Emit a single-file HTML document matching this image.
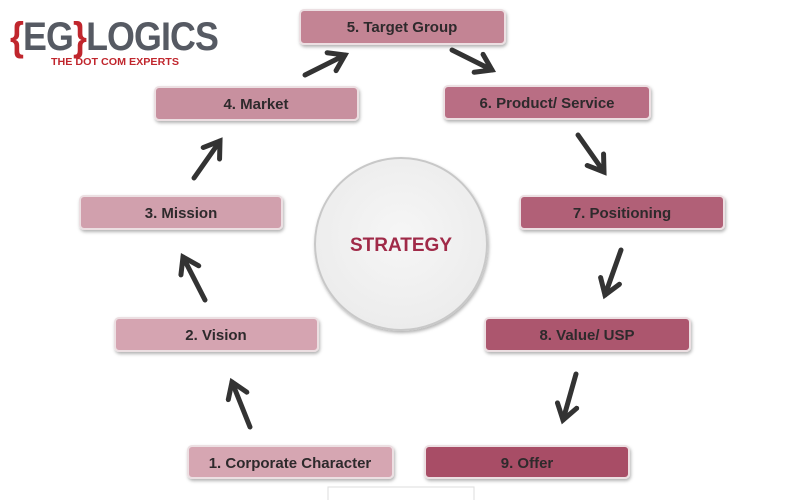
<!DOCTYPE html>
<html><head><meta charset="utf-8"><style>
html,body{margin:0;padding:0;background:#fff;}
svg{display:block;font-family:"Liberation Sans",Arial,sans-serif;}
</style></head><body>
<svg width="804" height="500" viewBox="0 0 804 500" xmlns="http://www.w3.org/2000/svg">
<defs>
<filter id="sh" x="-10%" y="-30%" width="120%" height="170%"><feDropShadow dx="1" dy="2" stdDeviation="1.5" flood-color="#000" flood-opacity="0.3"/></filter>
<radialGradient id="cg" cx="50%" cy="45%" r="55%"><stop offset="0" stop-color="#f6f6f6"/><stop offset="1" stop-color="#ececec"/></radialGradient>
<marker id="ah" viewBox="0 0 10 10" refX="7" refY="5" markerWidth="5" markerHeight="5" orient="auto"><path d="M1,1 L7,5 L1,9" fill="none" stroke="#333" stroke-width="2" stroke-linecap="round"/></marker>
</defs>
<text x="10" y="50" font-size="40" font-weight="bold" fill="#565a63" letter-spacing="-1" textLength="208" lengthAdjust="spacingAndGlyphs"><tspan fill="#c0262d">{</tspan>EG<tspan fill="#c0262d">}</tspan>LOGICS</text>
<text x="51" y="65" font-size="10" font-weight="bold" fill="#c0262d" textLength="128" lengthAdjust="spacingAndGlyphs">THE DOT COM EXPERTS</text>
<circle cx="401" cy="244" r="86" fill="url(#cg)" stroke="#c8c8c8" stroke-width="2" filter="url(#sh)"/>
<text x="401" y="251" font-size="19" font-weight="bold" fill="#a02a48" text-anchor="middle">STRATEGY</text>
<g stroke="#ecdfe2" stroke-width="2" filter="url(#sh)">
<rect x="300" y="10" width="205" height="34" rx="4" fill="#c38494"/>
<rect x="155" y="87" width="203" height="33" rx="4" fill="#c8909f"/>
<rect x="444" y="86" width="206" height="33" rx="4" fill="#b96e84"/>
<rect x="80" y="196" width="202" height="33" rx="4" fill="#d1a0ad"/>
<rect x="520" y="196" width="204" height="33" rx="4" fill="#b16077"/>
<rect x="115" y="318" width="203" height="33" rx="4" fill="#d5a4b1"/>
<rect x="485" y="318" width="205" height="33" rx="4" fill="#ac566e"/>
<rect x="188" y="446" width="205" height="32" rx="4" fill="#d6a6b2"/>
<rect x="425" y="446" width="204" height="32" rx="4" fill="#a84e66"/>
</g>
<g font-size="15" font-weight="bold" fill="#2e2a2c" text-anchor="middle">
<text x="402" y="32">5. Target Group</text>
<text x="256" y="109">4. Market</text>
<text x="547" y="108">6. Product/ Service</text>
<text x="181" y="218">3. Mission</text>
<text x="622" y="218">7. Positioning</text>
<text x="216" y="340">2. Vision</text>
<text x="587" y="340">8. Value/ USP</text>
<text x="290" y="468">1. Corporate Character</text>
<text x="527" y="468">9. Offer</text>
</g>
<g stroke="#333" stroke-width="5" stroke-linecap="round" fill="none" marker-end="url(#ah)">
<line x1="305" y1="75" x2="345" y2="55"/>
<line x1="452" y1="50" x2="492" y2="70"/>
<line x1="578" y1="135" x2="604" y2="172"/>
<line x1="621" y1="250" x2="605" y2="295"/>
<line x1="576" y1="374" x2="563" y2="420"/>
<line x1="250" y1="427" x2="232" y2="382"/>
<line x1="205" y1="300" x2="183" y2="257"/>
<line x1="194" y1="178" x2="220" y2="141"/>
</g>
<rect x="328" y="487" width="146" height="14" fill="none" stroke="#ddd" stroke-width="1"/>
</svg>
</body></html>
